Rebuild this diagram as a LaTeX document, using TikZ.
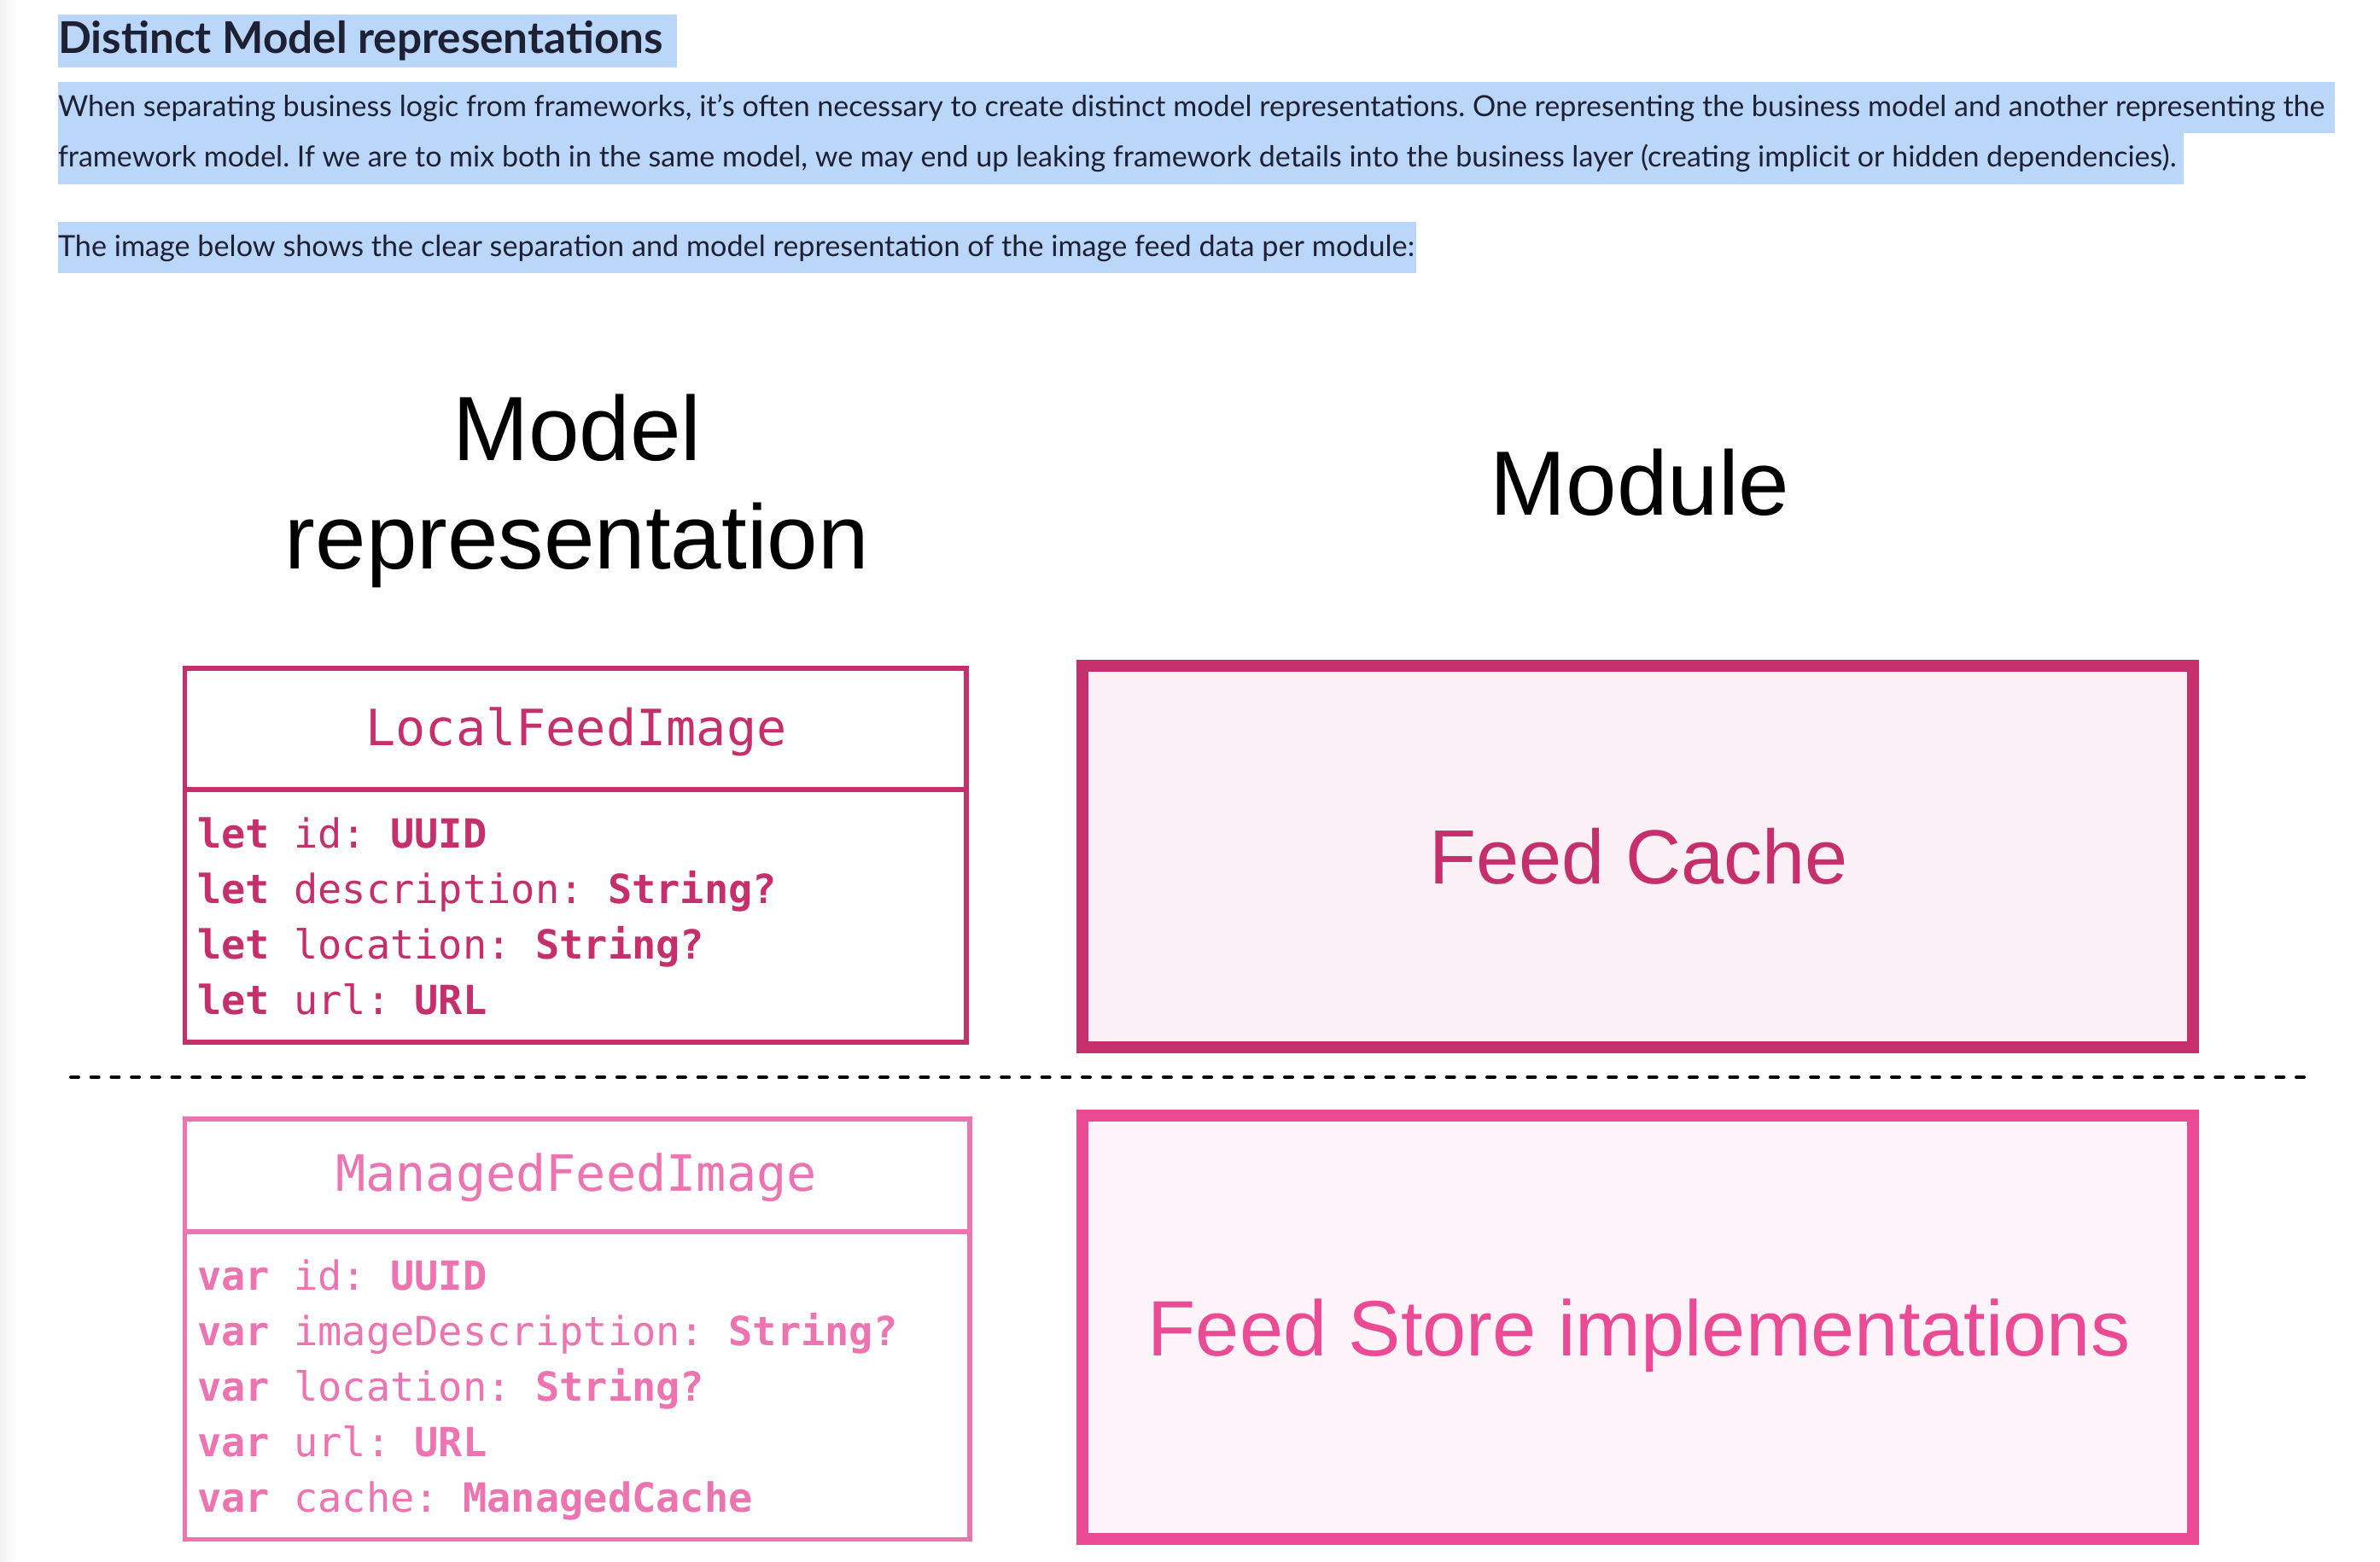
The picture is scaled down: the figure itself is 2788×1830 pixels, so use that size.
\documentclass[tikz,border=0pt]{standalone}
\usepackage{fontspec}
\usepackage{graphicx}
\setmainfont{Liberation Sans}
\newfontfamily\bodyfont{Lato}
\newfontfamily\codefont{DejaVu Sans Mono}
\definecolor{hl}{HTML}{BAD7FA}
\definecolor{ink}{HTML}{1E2033}
\definecolor{pinkA}{HTML}{C5306C}
\definecolor{pinkB}{HTML}{EC74B1}
\definecolor{pinkC}{HTML}{EA4B94}
\definecolor{fillA}{HTML}{FAF0F5}
\definecolor{fillB}{HTML}{FDF3F8}
\frenchspacing
\begin{document}
\frenchspacing
\begin{tikzpicture}[x=1pt,y=-1pt,
  txt/.style={inner sep=0pt,outer sep=0pt},
  para/.style={txt,anchor=base west,text=ink},
  heading/.style={txt,anchor=base,text=black,font=\fontsize{107}{128}\selectfont},
  umlA/.style={draw=pinkA,line width=5.5pt,inner sep=0pt,outer sep=0pt,anchor=north west},
  umlB/.style={draw=pinkB,line width=5.5pt,inner sep=0pt,outer sep=0pt,anchor=north west},
  titleA/.style={txt,anchor=base,text=pinkA,font=\codefont\fontsize{58.5}{70}\selectfont},
  titleB/.style={txt,anchor=base,text=pinkB,font=\codefont\fontsize{58.5}{70}\selectfont},
  fieldA/.style={txt,anchor=base west,text=pinkA,font=\codefont\fontsize{47}{56}\selectfont},
  fieldB/.style={txt,anchor=base west,text=pinkB,font=\codefont\fontsize{47}{56}\selectfont},
  modA/.style={draw=pinkA,fill=fillA,line width=14pt,inner sep=0pt,outer sep=0pt,anchor=north west},
  modB/.style={draw=pinkC,fill=fillB,line width=14pt,inner sep=0pt,outer sep=0pt,anchor=north west},
  modtxt/.style={txt,anchor=base,font=\fontsize{90}{108}\selectfont},
  sep/.style={line width=4pt,dash pattern=on 9pt off 14.7pt,line cap=round,black}
]
\useasboundingbox (0,0) rectangle (2788,1830);
\fill[white] (0,0) rectangle (2788,1830);
\shade[left color=black!5,right color=white] (0,0) rectangle (20,1830);

% highlights
\fill[hl] (68,17) rectangle (793,79);
\fill[hl] (68,96) rectangle (2735,156);
\fill[hl] (68,156) rectangle (2558,216);
\fill[hl] (68,260) rectangle (1659,320);

\node[para] (title) at (68,63) {\resizebox{709pt}{!}{\bodyfont\bfseries\fontsize{48}{56}\selectfont Distinct Model representations}};
\node[para] (p1) at (68,137) {\resizebox{2655pt}{!}{\bodyfont\fontsize{30}{36}\selectfont When separating business logic from frameworks, it’s often necessary to create distinct model representations. One representing the business model and another representing the}};
\node[para] (p2) at (68,196) {\resizebox{2481pt}{!}{\bodyfont\fontsize{30}{36}\selectfont framework model. If we are to mix both in the same model, we may end up leaking framework details into the business layer (creating implicit or hidden dependencies).}};
\node[para] (p3) at (68,300) {\resizebox{1589pt}{!}{\bodyfont\fontsize{30}{36}\selectfont The image below shows the clear separation and model representation of the image feed data per module:}};

% headings
\node[heading] (h1) at (676,539) {Model};
\node[heading] (h2) at (676,666) {representation};
\node[heading] (h3) at (1921,603) {Module};

% LocalFeedImage
\node[umlA,minimum width=915.5pt,minimum height=438pt] (lfi) at (216.5,783) {};
\coordinate (lfiy) at (0,925);
\draw[pinkA,line width=5.5pt] (lfi.west |- lfiy) -- (lfi.east |- lfiy);
\node[titleA] (lfit) at (675,873) {LocalFeedImage};
\node[fieldA] (la1) at (231,993) {\textbf{let} id: \textbf{UUID}};
\node[fieldA] (la2) at (231,1058) {\textbf{let} description: \textbf{String?}};
\node[fieldA] (la3) at (231,1123) {\textbf{let} location: \textbf{String?}};
\node[fieldA] (la4) at (231,1188) {\textbf{let} url: \textbf{URL}};

% ManagedFeedImage
\node[umlB,minimum width=919.5pt,minimum height=492.5pt] (mfi) at (216.5,1311) {};
\coordinate (mfiy) at (0,1443);
\draw[pinkB,line width=5.5pt] (mfi.west |- mfiy) -- (mfi.east |- mfiy);
\node[titleB] (mfit) at (675,1395) {ManagedFeedImage};
\node[fieldB] (mb1) at (231,1511) {\textbf{var} id: \textbf{UUID}};
\node[fieldB] (mb2) at (231,1576) {\textbf{var} imageDescription: \textbf{String?}};
\node[fieldB] (mb3) at (231,1641) {\textbf{var} location: \textbf{String?}};
\node[fieldB] (mb4) at (231,1706) {\textbf{var} url: \textbf{URL}};
\node[fieldB] (mb5) at (231,1771) {\textbf{var} cache: \textbf{ManagedCache}};

% modules
\node[modA,minimum width=1301pt,minimum height=447pt] (fc) at (1268,780) {};
\node[modtxt,text=pinkA] (fct) at (1920,1035) {Feed Cache};
\node[modB,minimum width=1301pt,minimum height=496pt] (fs) at (1268,1307) {};
\node[modtxt,text=pinkC,font=\fontsize{92}{110}\selectfont] (fst) at (1920,1588) {Feed Store implementations};

% separator
\coordinate (dl) at (83,1262);
\coordinate (dr) at (2703,1262);
\draw[sep] (dl) -- (dr);
\end{tikzpicture}
\end{document}
